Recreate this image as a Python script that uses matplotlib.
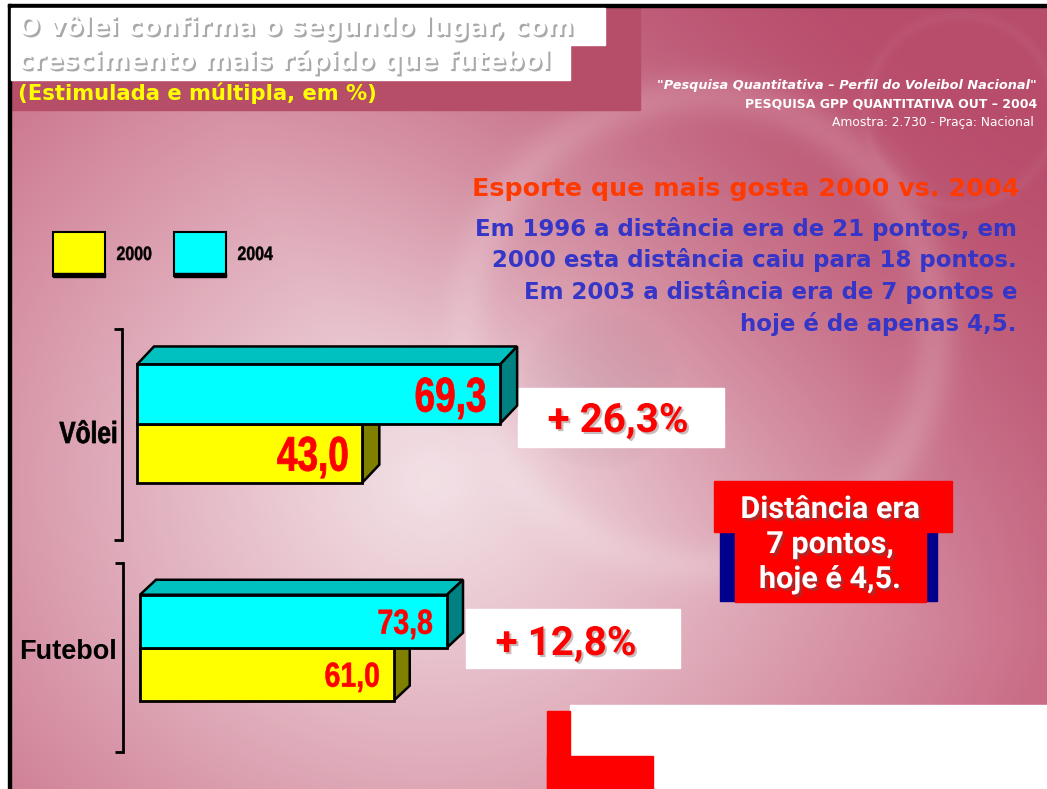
import numpy as np
import matplotlib.pyplot as plt
import matplotlib.transforms as mtransforms
from matplotlib.patches import Rectangle, Polygon, PathPatch
from matplotlib.textpath import TextPath
from matplotlib.font_manager import FontProperties
import matplotlib.patheffects as pe

# data
sports = ['Vôlei', 'Futebol']
years = ['2000', '2004']
val_2000 = [43.0, 61.0]
val_2004 = [69.3, 73.8]
growth = ['+ 26,3%', '+ 12,8%']

W, H = 1047, 789
fig = plt.figure(figsize=(W / 100, H / 100), dpi=100)
WIDE = 'DejaVu Sans'
BOLD = 'Roboto'


def narrow_text(ax, x, y, s, size, squeeze, ha='left', color='black', trans=None, dx_px=0, lw=0.5, zorder=10):
    # condensed bold label: text path squeezed horizontally, anchored at (x, y) of trans
    fp = FontProperties(family='Liberation Sans', weight='bold')
    path = TextPath((0, 0), s, size=1, prop=fp)
    ext = path.get_extents()
    x0 = {'left': ext.x0, 'right': ext.x1, 'center': (ext.x0 + ext.x1) / 2}[ha]
    tr = (mtransforms.Affine2D().translate(-x0, -0.36).scale(size * squeeze / 72, size / 72)
          + fig.dpi_scale_trans
          + mtransforms.Affine2D().translate(dx_px, 0)
          + mtransforms.ScaledTranslation(x, y, trans if trans is not None else ax.transData))
    ax.add_patch(PathPatch(path, transform=tr, facecolor=color, edgecolor=color, lw=lw,
                           zorder=zorder, clip_on=False))


# background, in pixel coordinates
bg = fig.add_axes([0, 0, 1, 1])
bg.set_xlim(0, W)
bg.set_ylim(H, 0)
bg.axis('off')

yy, xx = np.mgrid[0:H, 0:W]
t = np.clip(np.hypot(xx - 430, (yy - 480) * 1.1) / 640, 0, 1) ** 1.1
light = np.array([0.95, 0.88, 0.90])
dark = np.array([0.79, 0.43, 0.53])
img = light * (1 - t[..., None]) + dark * t[..., None]
tr = np.clip((xx / W) * (1 - yy / H) * 1.6 - 0.3, 0, 1)[..., None]
img = img * (1 - tr) + np.array([0.72, 0.30, 0.42]) * tr
ring = np.exp(-((np.hypot(xx - 700, yy - 330) - 235) / 22) ** 2) * 0.15
ring += np.exp(-((np.hypot(xx - 960, yy - 110) - 95) / 6) ** 2) * 0.04
img = img + (1 - img) * ring[..., None]
disk = np.clip(1 - np.hypot(xx - 600, yy - 390) / 80, 0, 1) ** 0.5 * 0.05
img = img * (1 - disk[..., None])
bg.imshow(np.clip(img, 0, 1), extent=(0, W, H, 0), aspect='auto', zorder=0)

# frame and header blocks
bg.add_patch(Rectangle((0, 0), W, 5, color='white', zorder=1))
bg.add_patch(Rectangle((0, 0), 8, H, color='white', zorder=1))
bg.add_patch(Rectangle((8, 4), W - 8, 3, color='black', zorder=2))
bg.add_patch(Rectangle((8, 4), 3, H, color='black', zorder=2))
bg.add_patch(Rectangle((11, 7), 629, 103, color='#b64e68', zorder=1))
bg.add_patch(Rectangle((11, 8), 594, 37, color='white', zorder=2))
bg.add_patch(Rectangle((11, 45), 559, 35, color='white', zorder=2))

shadow_grey = [pe.SimplePatchShadow(offset=(1.5, -1.5), shadow_rgbFace='#a0a0a0', alpha=0.9), pe.Normal()]
bg.text(18, 27, 'O vôlei confirma o segundo lugar, com', color='white', fontsize=18.5,
        fontweight='bold', family=WIDE, va='center', zorder=3, path_effects=shadow_grey)
bg.text(18, 61, 'crescimento mais rápido que futebol', color='white', fontsize=18.5,
        fontweight='bold', family=WIDE, va='center', zorder=3, path_effects=shadow_grey)
bg.text(18, 93, '(Estimulada e múltipla, em %)', color='#ffff00', fontsize=15.2,
        fontweight='bold', family=WIDE, va='center', zorder=3)

bg.text(1037, 85, '"Pesquisa Quantitativa – Perfil do Voleibol Nacional"', color='white',
        fontsize=9.3, fontweight='bold', style='italic', ha='right', va='center', zorder=3)
bg.text(1037, 104, 'PESQUISA GPP QUANTITATIVA OUT – 2004', color='white',
        fontsize=9, fontweight='bold', ha='right', va='center', zorder=3)
bg.text(1034, 122, 'Amostra: 2.730 - Praça: Nacional', color='white',
        fontsize=8.8, ha='right', va='center', zorder=3)

bg.text(1019, 189, 'Esporte que mais gosta 2000 vs. 2004', color='#ff3a00', fontsize=18.3,
        fontweight='bold', family=WIDE, ha='right', va='center', zorder=3)
blue_lines = ['Em 1996 a distância era de 21 pontos, em',
              '2000 esta distância caiu para 18 pontos.',
              'Em 2003 a distância era de 7 pontos e',
              'hoje é de apenas 4,5.']
for i, line in enumerate(blue_lines):
    bg.text(1017, 229 + i * 31.5, line, color='#3535c8', fontsize=16.5, fontweight='bold',
            family=WIDE, ha='right', va='center', zorder=3)

# legend
colors = ['#ffff00', '#00ffff']
for i, (yr, c) in enumerate(zip(years, colors)):
    x0 = 53 + i * 121
    bg.add_patch(Rectangle((x0, 232), 52, 44, facecolor=c, edgecolor='black', lw=1.5, zorder=3))
    bg.add_patch(Rectangle((x0, 273), 52, 4, color='black', zorder=3))
    narrow_text(bg, x0 + 64, 253, yr, 14, 0.82, trans=bg.transData, lw=0.3, zorder=3)

# bars, one axes per sport (the slide uses a separate scale per group)
layout = [
    dict(x0=137, top=329, bot=540, sx=5.24, dx=17, dy=18, fs=35, sq=0.76, off=-15, lw=0.6),
    dict(x0=140, top=563, bot=752, sx=4.16, dx=16, dy=15, fs=25, sq=0.82, off=-15, lw=0.4),
]
ylo, yhi = -1.47, 2.1
for i, sport in enumerate(sports):
    L = layout[i]
    ax = fig.add_axes([L['x0'] / W, 1 - L['bot'] / H, 100 * L['sx'] / W, (L['bot'] - L['top']) / H])
    ax.set_xlim(0, 100)
    ax.set_ylim(ylo, yhi)
    ax.patch.set_alpha(0)
    for s in ['top', 'right', 'bottom']:
        ax.spines[s].set_visible(False)
    ax.spines['left'].set_position(('outward', L['x0'] - (126 if i == 0 else 128)))
    ax.spines['left'].set_linewidth(2)
    ax.set_xticks([])
    ax.set_yticks([ylo, yhi])
    ax.set_yticklabels([])
    ax.tick_params(axis='y', direction='out', length=6, width=2)

    sy = (L['bot'] - L['top']) / (yhi - ylo)
    ddx = L['dx'] / L['sx']
    ddy = L['dy'] / sy
    vals = [val_2000[i], val_2004[i]]
    sides = ['#808000', '#008080']
    tops = ['#c0c000', '#00c0c0']
    for j, v in enumerate(vals):
        z = 1 + 3 * j
        yb, yt = j - 0.5, j + 0.5
        ax.add_patch(Polygon([(0, yt), (v, yt), (v + ddx, yt + ddy), (ddx, yt + ddy)],
                             closed=True, facecolor=tops[j], edgecolor='black', lw=1.8, zorder=z, clip_on=False))
        ax.add_patch(Polygon([(v, yb), (v, yt), (v + ddx, yt + ddy), (v + ddx, yb + ddy)],
                             closed=True, facecolor=sides[j], edgecolor='black', lw=1.8, zorder=z + 1, clip_on=False))
        ax.barh(j, v, height=1, color=colors[j], edgecolor='black', lw=2, zorder=z + 2, clip_on=False)
        narrow_text(ax, v, j, f'{v:.1f}'.replace('.', ','), L['fs'], L['sq'], ha='right',
                    color='#ff0000', dx_px=L['off'], lw=L['lw'], zorder=10)

# category labels
narrow_text(bg, 116, 432, sports[0], 22, 0.8, ha='right', trans=bg.transData, lw=0.5, zorder=3)
bg.text(117, 652, sports[1], fontsize=19.5, fontweight='bold', family='Liberation Sans', ha='right',
        va='center', zorder=3)

# growth boxes
red_shadow = [pe.SimplePatchShadow(offset=(1.5, -1.5), shadow_rgbFace='#b0a0a0', alpha=0.7), pe.Normal()]
boxes = [(518, 388, 206, 59), (466, 609, 214, 59)]
text_pos = [(618, 421), (566, 644)]
for (bx, by, bw, bh), (tx, ty), g in zip(boxes, text_pos, growth):
    bg.add_patch(Rectangle((bx, by), bw, bh, color='white', zorder=3))
    bg.text(tx, ty, g, color='#ff0000', fontsize=29, fontweight='bold', family=BOLD,
            ha='center', va='center', zorder=4, path_effects=red_shadow)

# distance note
bg.add_patch(Rectangle((720, 531), 217, 70, color='#00008c', zorder=3))
bg.add_patch(Rectangle((735, 531), 191, 71, color='#ff0000', zorder=4))
bg.add_patch(Rectangle((714, 481), 238, 51, color='#ff0000', zorder=4))
white_shadow = [pe.SimplePatchShadow(offset=(2, -2), shadow_rgbFace='#a03030', alpha=0.8), pe.Normal()]
for k, line in enumerate(['Distância era', '7 pontos,', 'hoje é 4,5.']):
    bg.text(830, 509 + k * 35, line, color='white', fontsize=22, fontweight='bold', family=BOLD,
            ha='center', va='center', zorder=5, path_effects=white_shadow)

# bottom corner blocks
bg.add_patch(Rectangle((570, 705), W - 570, H - 705, color='white', zorder=3))
bg.add_patch(Rectangle((547, 711), 23, H - 711, color='#ff0000', zorder=4))
bg.add_patch(Rectangle((547, 756), 106, H - 756, color='#ff0000', zorder=4))

fig.savefig('out.png', dpi=100)
